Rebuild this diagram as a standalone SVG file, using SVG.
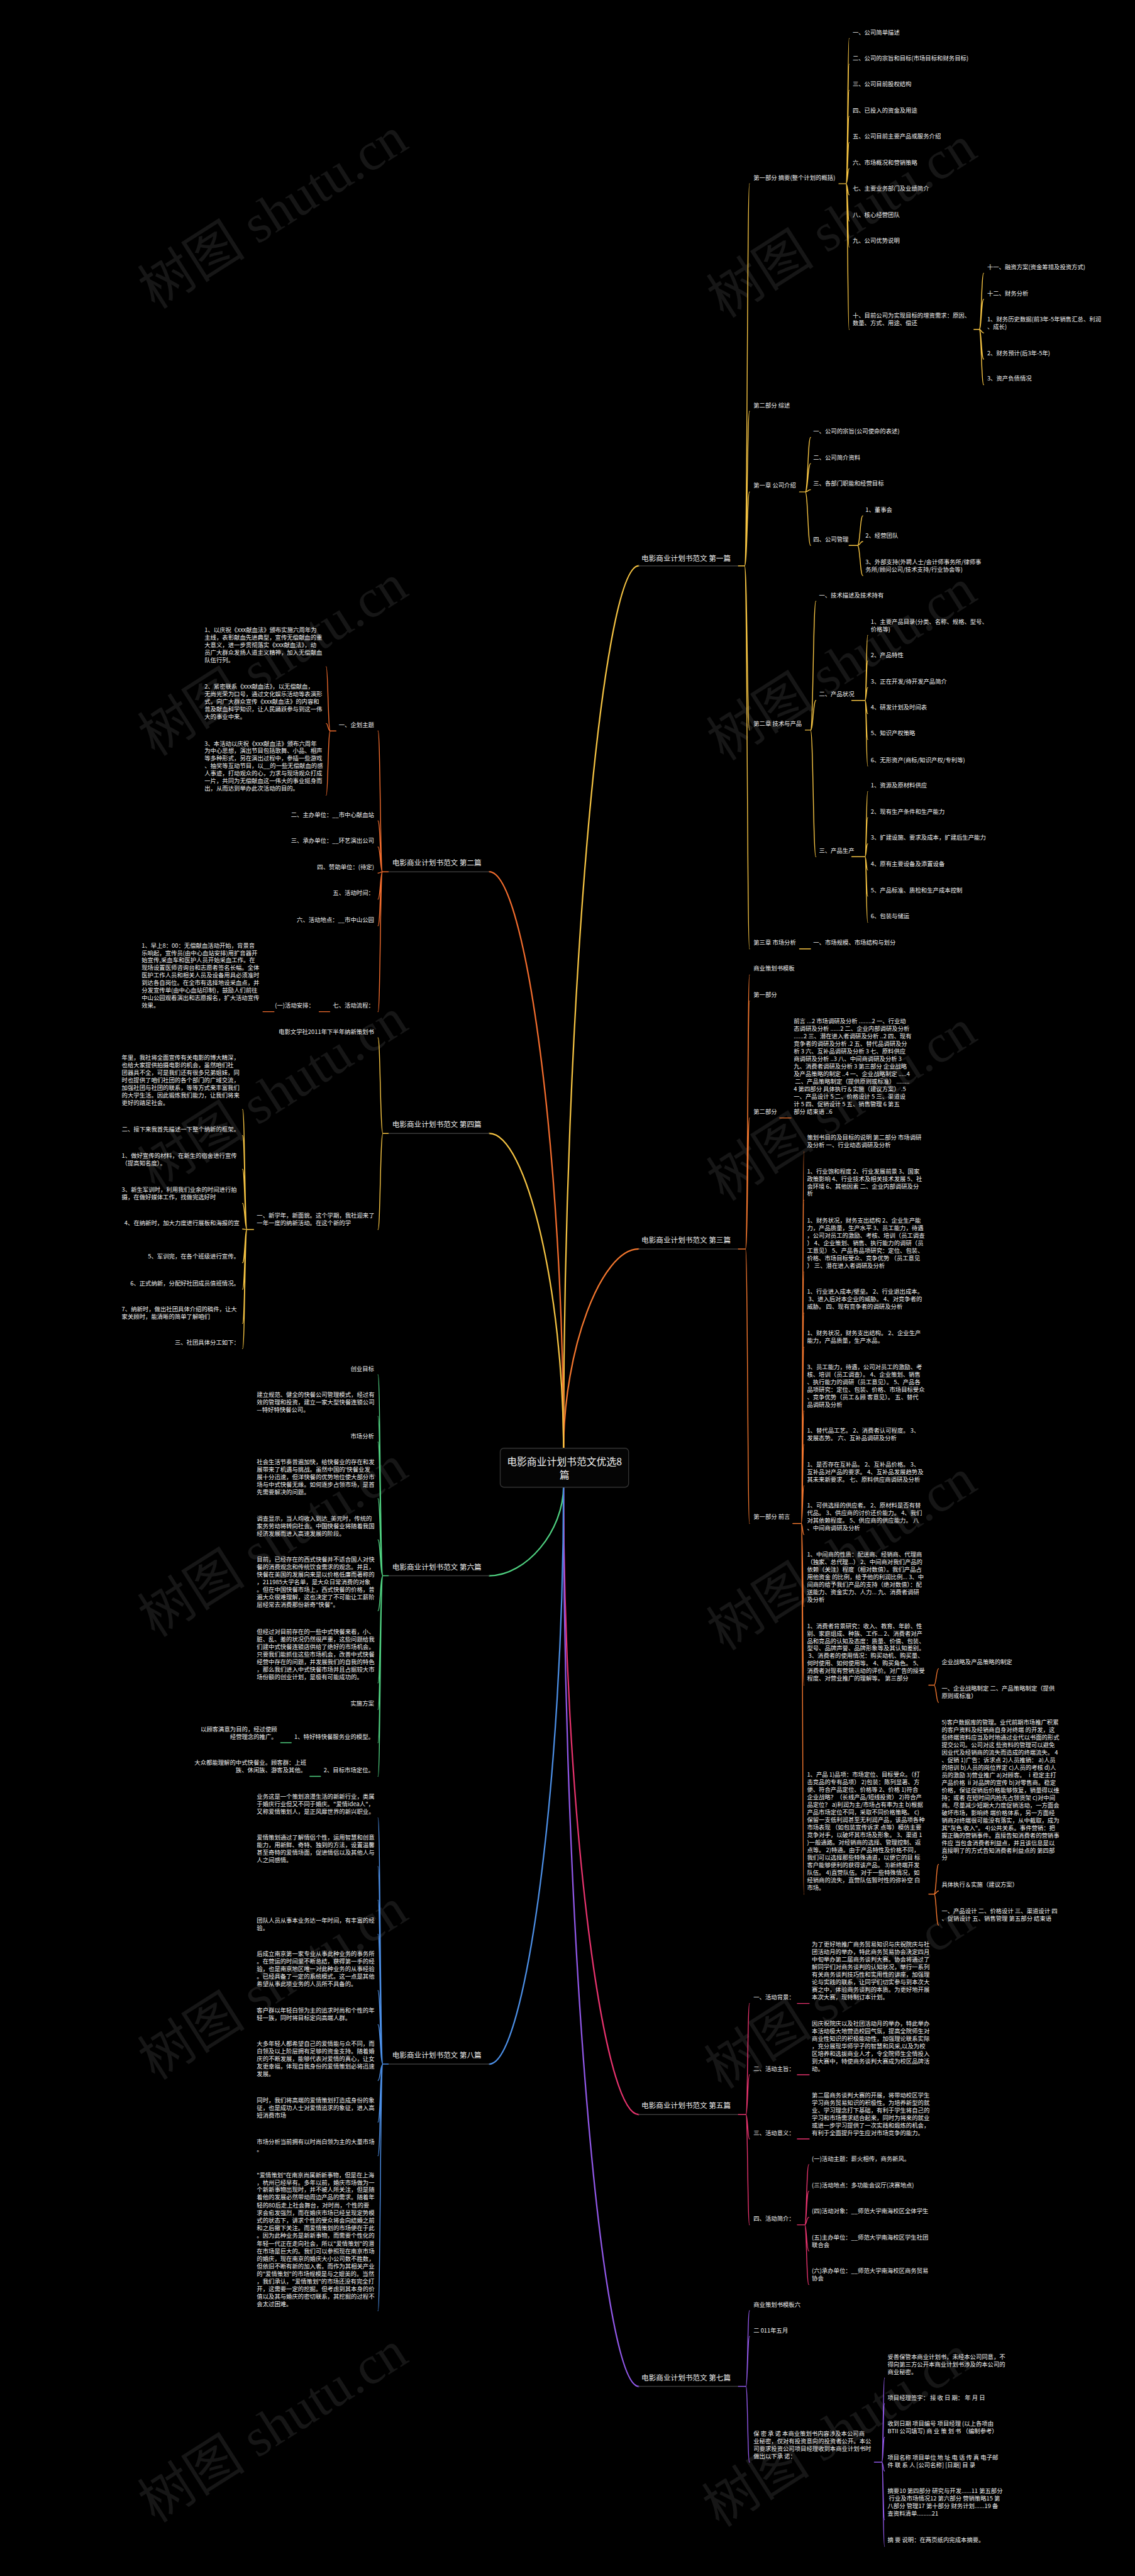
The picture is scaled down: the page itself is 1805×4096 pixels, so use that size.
<svg xmlns="http://www.w3.org/2000/svg" width="1805" height="4096" viewBox="0 0 1805 4096">
<style>
.t{font-family:"Noto Sans CJK SC","Noto Sans",sans-serif;font-size:13.3px;fill:#f0f0f0}
.e{text-anchor:end}
.b{font-size:16.5px}
.c{font-size:22.5px;text-anchor:middle}
.w{font-family:"Liberation Serif","Noto Sans CJK SC",serif;font-size:122px;fill:#161616}
path,line{fill:none;stroke-linecap:round}
.k1{stroke:#f5c342;stroke-width:2}
.k2{stroke:#f26c2d;stroke-width:2}
.k3{stroke:#f4772e;stroke-width:2}
.k4{stroke:#f5c342;stroke-width:2}
.k5{stroke:#e8336e;stroke-width:2}
.k6{stroke:#4fd080;stroke-width:2}
.k7{stroke:#9158e8;stroke-width:2}
.k8{stroke:#4c8fe6;stroke-width:2}
.m{stroke-width:3.2}
.u{stroke:#3a3a3a;stroke-width:2}
</style>
<rect width="1805" height="4096" fill="#000"/>
<g transform="scale(0.704)">
<g id="watermarks">
<text class="w" transform="translate(350,700) rotate(-32.5)">树图 shutu.cn</text>
<text class="w" transform="translate(350,1710) rotate(-32.5)">树图 shutu.cn</text>
<text class="w" transform="translate(350,2690) rotate(-32.5)">树图 shutu.cn</text>
<text class="w" transform="translate(350,3700) rotate(-32.5)">树图 shutu.cn</text>
<text class="w" transform="translate(350,4700) rotate(-32.5)">树图 shutu.cn</text>
<text class="w" transform="translate(350,5700) rotate(-32.5)">树图 shutu.cn</text>
<text class="w" transform="translate(1635,720) rotate(-32.5)">树图 shutu.cn</text>
<text class="w" transform="translate(1635,1720) rotate(-32.5)">树图 shutu.cn</text>
<text class="w" transform="translate(1635,2715) rotate(-32.5)">树图 shutu.cn</text>
<text class="w" transform="translate(1635,3730) rotate(-32.5)">树图 shutu.cn</text>
<text class="w" transform="translate(1630,4720) rotate(-32.5)">树图 shutu.cn</text>
<text class="w" transform="translate(1625,5710) rotate(-32.5)">树图 shutu.cn</text>
</g>

<g id="connectors">
<path class="k1 m" d="M1273 3275 C1273 2276 1358 1278 1443 1278"/>
<path class="k3 m" d="M1273 3275 C1273 3048 1358 2821 1443 2821"/>
<path class="k5 m" d="M1273 3357 C1273 4066 1358 4776 1443 4776"/>
<path class="k7 m" d="M1273 3357 C1273 4373 1358 5390 1443 5390"/>
<path class="k2 m" d="M1273 3275 C1273 2622 1189 1969 1105 1969"/>
<path class="k4 m" d="M1273 3275 C1273 2918 1189 2560 1105 2560"/>
<path class="k6 m" d="M1273 3357 C1273 3458 1189 3559 1105 3559"/>
<path class="k8 m" d="M1273 3357 C1273 4010 1189 4662 1105 4662"/>
<path class="u" d="M1443 1278 H1668 M1443 2821 H1668 M1443 4776 H1668 M1443 5390 H1668 M1105 1969 H877 M1105 2560 H877 M1105 3559 H877 M1105 4662 H877"/>
<path class="k1" d="M1668 1278 H1682 M1682 1278 C1688 1278 1688 415 1693 415 M1682 1278 C1688 1278 1688 929 1693 929 M1682 1278 C1688 1278 1688 1111 1693 1111 M1682 1278 C1688 1278 1688 1649 1693 1649 M1682 1278 C1688 1278 1688 2143 1693 2143"/>
<path class="k1" d="M1895 415 H1911 M1911 415 C1915 415 1915 87 1918 87 M1911 415 C1915 415 1915 145 1918 145 M1911 415 C1915 415 1915 204 1918 204 M1911 415 C1915 415 1915 263 1918 263 M1911 415 C1915 415 1915 322 1918 322 M1911 415 C1915 415 1915 381 1918 381 M1911 415 C1915 415 1915 440 1918 440 M1911 415 C1915 415 1915 499 1918 499 M1911 415 C1915 415 1915 558 1918 558 M1911 415 C1915 415 1915 744 1918 744"/>
<path class="k1" d="M2200 744 H2212 M2212 744 C2217 744 2217 617 2222 617 M2212 744 C2217 744 2217 676 2222 676 M2212 744 C2217 744 2217 752 2222 752 M2212 744 C2217 744 2217 811 2222 811 M2212 744 C2217 744 2217 869 2222 869"/>
<path class="k1" d="M1806 1111 H1819 M1819 1111 C1825 1111 1825 988 1831 988 M1819 1111 C1825 1111 1825 1047 1831 1047 M1819 1111 C1825 1111 1825 1106 1831 1106 M1819 1111 C1825 1111 1825 1232 1831 1232"/>
<path class="k1" d="M1918 1232 H1937 M1937 1232 C1943 1232 1943 1165 1949 1165 M1937 1232 C1943 1232 1943 1223 1949 1223 M1937 1232 C1943 1232 1943 1300 1949 1300"/>
<path class="k1" d="M1819 1649 H1831 M1831 1649 C1837 1649 1837 1358 1843 1358 M1831 1649 C1837 1649 1837 1582 1843 1582 M1831 1649 C1837 1649 1837 1935 1843 1935"/>
<path class="k1" d="M1924 1582 H1954 M1954 1582 C1957 1582 1957 1435 1960 1435 M1954 1582 C1957 1582 1957 1493 1960 1493 M1954 1582 C1957 1582 1957 1553 1960 1553 M1954 1582 C1957 1582 1957 1612 1960 1612 M1954 1582 C1957 1582 1957 1670 1960 1670 M1954 1582 C1957 1582 1957 1730 1960 1730"/>
<path class="k1" d="M1924 1935 H1954 M1954 1935 C1957 1935 1957 1788 1960 1788 M1954 1935 C1957 1935 1957 1847 1960 1847 M1954 1935 C1957 1935 1957 1906 1960 1906 M1954 1935 C1957 1935 1957 1965 1960 1965 M1954 1935 C1957 1935 1957 2024 1960 2024 M1954 1935 C1957 1935 1957 2083 1960 2083"/>
<path class="k1" d="M1806 2143 H1831"/>
<path class="k3" d="M1668 2821 H1684 M1684 2821 C1689 2821 1689 2202 1693 2202 M1684 2821 C1689 2821 1689 2261 1693 2261 M1684 2821 C1689 2821 1689 2525 1693 2525 M1684 2821 C1689 2821 1689 3441 1693 3441"/>
<path class="k3" d="M1761 2525 H1787"/>
<path class="k3" d="M1791 3441 H1810 M1810 3441 C1813 3441 1813 2602 1816 2602 M1810 3441 C1813 3441 1813 2711 1816 2711 M1810 3441 C1813 3441 1813 2873 1816 2873 M1810 3441 C1813 3441 1813 2966 1816 2966 M1810 3441 C1813 3441 1813 3043 1816 3043 M1810 3441 C1813 3441 1813 3187 1816 3187 M1810 3441 C1813 3441 1813 3263 1816 3263 M1810 3441 C1813 3441 1813 3356 1816 3356 M1810 3441 C1813 3441 1813 3466 1816 3466 M1810 3441 C1813 3441 1813 3628 1816 3628 M1810 3441 C1813 3441 1813 3806 1816 3806 M1810 3441 C1813 3441 1813 4278 1816 4278"/>
<path class="k3" d="M2098 3806 H2110 M2110 3806 C2115 3806 2115 3769 2120 3769 M2110 3806 C2115 3806 2115 3845 2120 3845"/>
<path class="k3" d="M2098 4278 H2110 M2110 4278 C2115 4278 2115 4211 2120 4211 M2110 4278 C2115 4278 2115 4271 2120 4271 M2110 4278 C2115 4278 2115 4348 2120 4348"/>
<path class="k5" d="M1668 4776 H1685 M1685 4776 C1689 4776 1689 4525 1693 4525 M1685 4776 C1689 4776 1689 4686 1693 4686 M1685 4776 C1689 4776 1689 4831 1693 4831 M1685 4776 C1689 4776 1689 5025 1693 5025"/>
<path class="k5" d="M1801 4525 H1828 M1801 4686 H1828 M1801 4831 H1828"/>
<path class="k5" d="M1801 5025 H1818 M1818 5025 C1822 5025 1822 4889 1827 4889 M1818 5025 C1822 5025 1822 4949 1827 4949 M1818 5025 C1822 5025 1822 5008 1827 5008 M1818 5025 C1822 5025 1822 5084 1827 5084 M1818 5025 C1822 5025 1822 5160 1827 5160"/>
<path class="k7" d="M1668 5390 H1685 M1685 5390 C1689 5390 1689 5219 1693 5219 M1685 5390 C1689 5390 1689 5277 1693 5277 M1685 5390 C1689 5390 1689 5561 1693 5561"/>
<path class="k7" d="M1975 5561 H1992 M1992 5561 C1995 5561 1995 5371 1998 5371 M1992 5561 C1995 5561 1995 5429 1998 5429 M1992 5561 C1995 5561 1995 5505 1998 5505 M1992 5561 C1995 5561 1995 5581 1998 5581 M1992 5561 C1995 5561 1995 5691 1998 5691 M1992 5561 C1995 5561 1995 5751 1998 5751"/>
<path class="k2" d="M877 1969 H864 M864 1969 C859 1969 859 1651 854 1651 M864 1969 C859 1969 859 1854 854 1854 M864 1969 C859 1969 859 1913 854 1913 M864 1969 C859 1969 859 1972 854 1972 M864 1969 C859 1969 859 2031 854 2031 M864 1969 C859 1969 859 2091 854 2091 M864 1969 C859 1969 859 2285 854 2285"/>
<path class="k2" d="M759 1651 H746 M746 1651 C741 1651 741 1506 737 1506 M746 1651 C741 1651 741 1634 737 1634 M746 1651 C741 1651 741 1796 737 1796"/>
<path class="k2" d="M745 2285 H721 M619 2285 H594"/>
<path class="k4" d="M877 2560 H865 M865 2560 C859 2560 859 2344 854 2344 M865 2560 C859 2560 859 2777 854 2777"/>
<path class="k4" d="M573 2777 H558 M558 2777 C553 2777 553 2506 548 2506 M558 2777 C553 2777 553 2565 548 2565 M558 2777 C553 2777 553 2641 548 2641 M558 2777 C553 2777 553 2718 548 2718 M558 2777 C553 2777 553 2776 548 2776 M558 2777 C553 2777 553 2852 548 2852 M558 2777 C553 2777 553 2912 548 2912 M558 2777 C553 2777 553 2989 548 2989 M558 2777 C553 2777 553 3046 548 3046"/>
<path class="k6" d="M877 3559 H865 M865 3559 C859 3559 859 3105 854 3105 M865 3559 C859 3559 859 3199 854 3199 M865 3559 C859 3559 859 3257 854 3257 M865 3559 C859 3559 859 3385 854 3385 M865 3559 C859 3559 859 3478 854 3478 M865 3559 C859 3559 859 3638 854 3638 M865 3559 C859 3559 859 3801 854 3801 M865 3559 C859 3559 859 3861 854 3861 M865 3559 C859 3559 859 3936 854 3936 M865 3559 C859 3559 859 4012 854 4012"/>
<path class="k6" d="M658 3936 H634 M724 4012 H700"/>
<path class="k8" d="M877 4662 H865 M865 4662 C859 4662 859 4106 854 4106 M865 4662 C859 4662 859 4216 854 4216 M865 4662 C859 4662 859 4292 854 4292 M865 4662 C859 4662 859 4369 854 4369 M865 4662 C859 4662 859 4496 854 4496 M865 4662 C859 4662 859 4573 854 4573 M865 4662 C859 4662 859 4699 854 4699 M865 4662 C859 4662 859 4793 854 4793 M865 4662 C859 4662 859 4869 854 4869 M865 4662 C859 4662 859 5219 854 5219"/>
</g>

<g id="center">
<rect x="1130" y="3271" width="290" height="88" rx="8" fill="#050505" stroke="#333" stroke-width="2"/>
<text class="t c" x="1275" y="3309">电影商业计划书范文优选8</text>
<text class="t c" x="1275" y="3340">篇</text>
</g>

<g id="part1">
<text class="t b" x="1449" y="1267">电影商业计划书范文 第一篇</text>
<g id="p1-1"><text class="t" x="1702" y="406">第一部分 摘要(整个计划的概括)</text>
<text class="t" x="1926" y="78">一、公司简单描述</text>
<text class="t" x="1926" y="136">二、公司的宗旨和目标(市场目标和财务目标)</text>
<text class="t" x="1926" y="195">三、公司目前股权结构</text>
<text class="t" x="1926" y="254">四、已投入的资金及用途</text>
<text class="t" x="1926" y="313">五、公司目前主要产品或服务介绍</text>
<text class="t" x="1926" y="372">六、市场概况和营销策略</text>
<text class="t" x="1926" y="431">七、主要业务部门及业绩简介</text>
<text class="t" x="1926" y="490">八、核心经营团队</text>
<text class="t" x="1926" y="549">九、公司优势说明</text>
<text class="t" x="1926" y="718"><tspan x="1926" y="718">十、目前公司为实现目标的增资需求：原因、</tspan><tspan x="1926" y="735">数量、方式、用途、偿还</tspan></text>
<text class="t" x="2230" y="608">十一、融资方案(资金筹措及投资方式)</text>
<text class="t" x="2230" y="667">十二、财务分析</text>
<text class="t" x="2230" y="726"><tspan x="2230" y="726">1、财务历史数据(前3年-5年销售汇总、利润</tspan><tspan x="2230" y="743">、成长)</tspan></text>
<text class="t" x="2230" y="802">2、财务预计(后3年-5年)</text>
<text class="t" x="2230" y="860">3、资产负债情况</text>
</g>
<text class="t" x="1702" y="920">第二部分 综述</text>
<g id="p1-3"><text class="t" x="1702" y="1101">第一章 公司介绍</text>
<text class="t" x="1837" y="979">一、公司的宗旨(公司使命的表述)</text>
<text class="t" x="1837" y="1038">二、公司简介资料</text>
<text class="t" x="1837" y="1097">三、各部门职能和经营目标</text>
<text class="t" x="1837" y="1223">四、公司管理</text>
<text class="t" x="1955" y="1156">1、董事会</text>
<text class="t" x="1955" y="1214">2、经营团队</text>
<text class="t" x="1955" y="1274"><tspan x="1955" y="1274">3、外部支持(外聘人士/会计师事务所/律师事</tspan><tspan x="1955" y="1291">务所/顾问公司/技术支持/行业协会等)</tspan></text>
</g>
<g id="p1-4"><text class="t" x="1702" y="1639">第二章 技术与产品</text>
<text class="t" x="1850" y="1349">一、技术描述及技术持有</text>
<text class="t" x="1850" y="1573">二、产品状况</text>
<text class="t" x="1850" y="1926">三、产品生产</text>
<text class="t" x="1967" y="1409"><tspan x="1967" y="1409">1、主要产品目录(分类、名称、规格、型号、</tspan><tspan x="1967" y="1426">价格等)</tspan></text>
<text class="t" x="1967" y="1484">2、产品特性</text>
<text class="t" x="1967" y="1544">3、正在开发/待开发产品简介</text>
<text class="t" x="1967" y="1603">4、研发计划及时间表</text>
<text class="t" x="1967" y="1661">5、知识产权策略</text>
<text class="t" x="1967" y="1721">6、无形资产(商标/知识产权/专利等)</text>
<text class="t" x="1967" y="1779">1、资源及原材料供应</text>
<text class="t" x="1967" y="1838">2、现有生产条件和生产能力</text>
<text class="t" x="1967" y="1897">3、扩建设施、要求及成本，扩建后生产能力</text>
<text class="t" x="1967" y="1956">4、原有主要设备及添置设备</text>
<text class="t" x="1967" y="2015">5、产品标准、质检和生产成本控制</text>
<text class="t" x="1967" y="2074">6、包装与储运</text>
</g>
<text class="t" x="1702" y="2133">第三章 市场分析</text>
<text class="t" x="1837" y="2133">一、市场规模、市场结构与划分</text>
</g>

<g id="part3">
<text class="t b" x="1449" y="2807">电影商业计划书范文 第三篇</text>
<text class="t" x="1702" y="2192">商业策划书模板</text>
<text class="t" x="1702" y="2251">第一部分</text>
<text class="t" x="1702" y="2515">第二部分</text>
<text class="t" x="1793" y="2311"><tspan x="1793" y="2311">前言 ...2 市场调研及分析 ........2 一、行业动</tspan><tspan x="1793" y="2328">态调研及分析 ......2 二、企业内部调研及分析</tspan><tspan x="1793" y="2345">......2 三、潜在进入者调研及分析 ..2 四、现有</tspan><tspan x="1793" y="2362">竞争者的调研及分析 .2 五、替代品调研及分</tspan><tspan x="1793" y="2379">析  3 六、互补品调研及分析  3 七、原料供应</tspan><tspan x="1793" y="2396">商调研及分析 ..3 八、中间商调研及分析  3</tspan><tspan x="1793" y="2413">九、消费者调研及分析  3 第三部分 企业战略</tspan><tspan x="1793" y="2430">及产品策略的制定 ..4 一、企业战略制定 .....4</tspan><tspan x="1793" y="2447"> 二、产品策略制定（提供原则或标准） ........</tspan><tspan x="1793" y="2464">4 第四部分 具体执行＆实施（建议方案） .5</tspan><tspan x="1793" y="2481">一、产品设计  5 二、价格设计  5 三、渠道设</tspan><tspan x="1793" y="2498">计  5 四、促销设计  5 五、销售管理  6 第五</tspan><tspan x="1793" y="2515">部分 结束语 ..6</tspan></text>
<text class="t" x="1702" y="3431">第一部分 前言</text>
<text class="t" x="1823" y="2574"><tspan x="1823" y="2574">策划书目的及目标的说明 第二部分 市场调研</tspan><tspan x="1823" y="2591">及分析 一、行业动态调研及分析</tspan></text>
<text class="t" x="1823" y="2650"><tspan x="1823" y="2650">1、行业饱和程度 2、行业发展前景 3、国家</tspan><tspan x="1823" y="2667">政策影响 4、行业技术及相关技术发展 5、社</tspan><tspan x="1823" y="2684">会环境 6、其他因素 二、企业内部调研及分</tspan><tspan x="1823" y="2701">析</tspan></text>
<text class="t" x="1823" y="2761"><tspan x="1823" y="2761">1、财务状况，财务支出结构 2、企业生产能</tspan><tspan x="1823" y="2778">力，产品质量，生产水平 3、员工能力，待遇</tspan><tspan x="1823" y="2795">，公司对员工的激励、考核、培训（员工调查</tspan><tspan x="1823" y="2812">） 4、企业策划、销售、执行能力的调研（员</tspan><tspan x="1823" y="2829">工意见） 5、产品各品项研究：定位、包装、</tspan><tspan x="1823" y="2846">价格、市场目标受众、竞争优势 （员工意见</tspan><tspan x="1823" y="2863">） 三、潜在进入者调研及分析</tspan></text>
<text class="t" x="1823" y="2922"><tspan x="1823" y="2922">1、行业进入成本/壁垒。 2、行业退出成本。</tspan><tspan x="1823" y="2939"> 3、进入后对本企业的威胁。 4、对竞争者的</tspan><tspan x="1823" y="2956">威胁。 四、现有竞争者的调研及分析</tspan></text>
<text class="t" x="1823" y="3016"><tspan x="1823" y="3016">1、财务状况，财务支出结构。 2、企业生产</tspan><tspan x="1823" y="3033">能力，产品质量，生产水品。</tspan></text>
<text class="t" x="1823" y="3092"><tspan x="1823" y="3092">3、员工能力，待遇，公司对员工的激励、考</tspan><tspan x="1823" y="3109">核、培训（员工调查）。 4、企业策划、销售</tspan><tspan x="1823" y="3126">、执行能力的调研（员工意见）。 5、产品各</tspan><tspan x="1823" y="3143">品项研究：定位、包装、价格、市场目标受众</tspan><tspan x="1823" y="3160">、竞争优势（员工＆顾 客意见）。 五、替代</tspan><tspan x="1823" y="3177">品调研及分析</tspan></text>
<text class="t" x="1823" y="3236"><tspan x="1823" y="3236">1、替代品工艺。 2、消费者认可程度。 3、</tspan><tspan x="1823" y="3253">发展态势。 六、互补品调研及分析</tspan></text>
<text class="t" x="1823" y="3312"><tspan x="1823" y="3312">1、是否存在互补品。 2、互补品价格。 3、</tspan><tspan x="1823" y="3329">互补品对产品的要求。 4、互补品发展趋势及</tspan><tspan x="1823" y="3346">其未来新要求。 七、原料供应商调研及分析</tspan></text>
<text class="t" x="1823" y="3405"><tspan x="1823" y="3405">1、可供选择的供应者。 2、原材料是否有替</tspan><tspan x="1823" y="3422">代品。 3、供应商的讨价还价能力。 4、我们</tspan><tspan x="1823" y="3439">对其依赖程度。 5、供应商的供应能力。 八</tspan><tspan x="1823" y="3456">、中间商调研及分析</tspan></text>
<text class="t" x="1823" y="3516"><tspan x="1823" y="3516">1、中间商的性质：配送商、经销商、代理商</tspan><tspan x="1823" y="3533">（独家、总代理...） 2、中间商对我们产品的</tspan><tspan x="1823" y="3550">依赖（关注）程度（相对数值）。我们产品占</tspan><tspan x="1823" y="3567">用他资金 的比例，给予他的利润比例... 3、中</tspan><tspan x="1823" y="3584">间商的给予我们产品的支持（绝对数值）：配</tspan><tspan x="1823" y="3601">送能力、资金实力、人力... 九、消费者调研</tspan><tspan x="1823" y="3618">及分析</tspan></text>
<text class="t" x="1823" y="3677"><tspan x="1823" y="3677">1、消费者背景研究：收入、教育、年龄、性</tspan><tspan x="1823" y="3694">别、家庭组成、种族、工作... 2、消费者对产</tspan><tspan x="1823" y="3711">品和竞品的认知及态度：质量、价值、包装、</tspan><tspan x="1823" y="3728">型号、品牌声誉、品牌形象等及其认知差别。</tspan><tspan x="1823" y="3745"> 3、消费者的使用情况：购买动机、购买量、</tspan><tspan x="1823" y="3762">何时使用、如何使用等。 4、购买角色。 5、</tspan><tspan x="1823" y="3779">消费者对现有营销活动的评价。对广告的接受</tspan><tspan x="1823" y="3796">程度、对营业推广的理解等。 第三部分</tspan></text>
<text class="t" x="2127" y="3759">企业战略及产品策略的制定</text>
<text class="t" x="2127" y="3818"><tspan x="2127" y="3818">一、企业战略制定 二、产品策略制定（提供</tspan><tspan x="2127" y="3835">原则或标准）</tspan></text>
<text class="t" x="1823" y="4013"><tspan x="1823" y="4013">1、产品 1)品项：市场定位、目标受众。（打</tspan><tspan x="1823" y="4030">击竞品的专有品项） 2)包装：陈列显著、方</tspan><tspan x="1823" y="4047">便、符合产品定位、价格等 2、价格 1)符合</tspan><tspan x="1823" y="4064">企业战略？（长线产品/短线投资） 2)符合产</tspan><tspan x="1823" y="4081">品定位？ a)利润为主/市场占有率为主 b)根据</tspan><tspan x="1823" y="4098">产品市场定位不同，采取不同价格策略。 c)</tspan><tspan x="1823" y="4115">保留一支低利润甚至无利润产品，该品项各种</tspan><tspan x="1823" y="4132">市场表现 （如包装宣传诉求 点等）模仿主要</tspan><tspan x="1823" y="4149">竞争对手，以破坏其市场及形象。 3、渠道 1</tspan><tspan x="1823" y="4166">)一般通路。对经销商的选择、管理控制、返</tspan><tspan x="1823" y="4183">点等。 2)特通。由于产品特性及价格不同，</tspan><tspan x="1823" y="4200">我们可以选择那些特殊通道，以便它的目 标</tspan><tspan x="1823" y="4217">客户能够便利的获得该产品。 3)新终端开发</tspan><tspan x="1823" y="4234">队伍。 4)直营队伍。对于一些特殊情况，如</tspan><tspan x="1823" y="4251">经销商的流失，直营队伍暂时性的弥补空 白</tspan><tspan x="1823" y="4268">市场。</tspan></text>
<text class="t" x="2127" y="3895"><tspan x="2127" y="3895">5)客户数据库的管理。业代前期市场推广积累</tspan><tspan x="2127" y="3912">的客户资料及经销商自身对终端 的开发，这</tspan><tspan x="2127" y="3929">些终端资料应当及时地通过业代以书面的形式</tspan><tspan x="2127" y="3946">提交公司。公司对这 些资料的管理可以避免</tspan><tspan x="2127" y="3963">因业代及经销商的流失而造成的终端流失。 4</tspan><tspan x="2127" y="3980">、促销 1)广告：诉求点 2)人员推销： a)人员</tspan><tspan x="2127" y="3997">的培训 b)人员的岗位界定 c)人员的考核 d)人</tspan><tspan x="2127" y="4014">员的激励 3)营业推广 a)对顾客。 ⅰ稳定主打</tspan><tspan x="2127" y="4031">产品价格 ⅱ对品牌的宣传 b)对零售商。稳定</tspan><tspan x="2127" y="4048">价格，保证促销后价格能够恢复，销量得以维</tspan><tspan x="2127" y="4065">持；或者 在短时间内抢先占领货架 c)对中间</tspan><tspan x="2127" y="4082">商。尽量减少短期大力度促销活动，一方面会</tspan><tspan x="2127" y="4099">破坏市场，影响终 端价格体系，另一方面经</tspan><tspan x="2127" y="4116">销商对终端很可能没有落实，从中截取，成为</tspan><tspan x="2127" y="4133">其&quot;灰色 收入&quot;。 4)公共关系。事件营销：把</tspan><tspan x="2127" y="4150">握正确的营销事件。直接告知消费者的营销事</tspan><tspan x="2127" y="4167">件应 当包含消费者利益点，并且该信息是以</tspan><tspan x="2127" y="4184">直接明了的方式告知消费者利益点的 第四部</tspan><tspan x="2127" y="4201">分</tspan></text>
<text class="t" x="2127" y="4261">具体执行＆实施（建议方案）</text>
<text class="t" x="2127" y="4321"><tspan x="2127" y="4321">一、产品设计 二、价格设计 三、渠道设计 四</tspan><tspan x="2127" y="4338">、促销设计 五、销售管理 第五部分 结束语</tspan></text>
</g>

<g id="part5">
<text class="t b" x="1449" y="4762">电影商业计划书范文 第五篇</text>
<text class="t" x="1702" y="4516">一、活动背景：</text>
<text class="t" x="1834" y="4397"><tspan x="1834" y="4397">为了更好地推广商务贸易知识与庆祝院庆与社</tspan><tspan x="1834" y="4414">团活动月的举办，特此商务贸易协会决定四月</tspan><tspan x="1834" y="4431">中旬举办第二届商务谈判大赛。协会将通过了</tspan><tspan x="1834" y="4448">解同学们对商务谈判的认知状况，举行一系列</tspan><tspan x="1834" y="4465">有关商务谈判技巧性和实用性的讲座，加强理</tspan><tspan x="1834" y="4482">论与实践的联系，让同学们切实参与到本次大</tspan><tspan x="1834" y="4499">赛之中，体验商务谈判的本质。为更好地开展</tspan><tspan x="1834" y="4516">本次大赛，现特制订本计划。</tspan></text>
<text class="t" x="1702" y="4677">二、活动主旨：</text>
<text class="t" x="1834" y="4575"><tspan x="1834" y="4575">因庆祝院庆以及社团活动月的举办，特此举办</tspan><tspan x="1834" y="4592">本活动极大地营造校园气氛，提高全院师生对</tspan><tspan x="1834" y="4609">商业性知识的积极能动性，加强理论联系实际</tspan><tspan x="1834" y="4626">，充分展现华师学子的智慧和风采,以及为校</tspan><tspan x="1834" y="4643">区培养和选拔商业人才，令全院师生全情投入</tspan><tspan x="1834" y="4660">到大赛中，特使商务谈判大赛成为校区品牌活</tspan><tspan x="1834" y="4677">动。</tspan></text>
<text class="t" x="1702" y="4822">三、活动意义：</text>
<text class="t" x="1834" y="4737"><tspan x="1834" y="4737">第二届商务谈判大赛的开展，将带动校区学生</tspan><tspan x="1834" y="4754">学习商务贸易知识的积极性。为培养新型的就</tspan><tspan x="1834" y="4771">业、学习理念打下基础，有利于学生将自己的</tspan><tspan x="1834" y="4788">学习和市场需求结合起来，同时为将来的就业</tspan><tspan x="1834" y="4805">或进一步学习提供了一次实践和煅炼的机会，</tspan><tspan x="1834" y="4822">有利于全面提升学生应对市场竞争的能力。</tspan></text>
<text class="t" x="1702" y="5016">四、活动简介：</text>
<text class="t" x="1834" y="4880">(一)活动主题：薪火相传，商务新风。</text>
<text class="t" x="1834" y="4940">(三)活动地点：多功能会议厅(决赛地点)</text>
<text class="t" x="1834" y="4999">(四)活动对象：__师范大学南海校区全体学生</text>
<text class="t" x="1834" y="5058"><tspan x="1834" y="5058">(五)主办单位：__师范大学南海校区学生社团</tspan><tspan x="1834" y="5075">联合会</tspan></text>
<text class="t" x="1834" y="5134"><tspan x="1834" y="5134">(六)承办单位：__师范大学南海校区商务贸易</tspan><tspan x="1834" y="5151">协会</tspan></text>
</g>

<g id="part7">
<text class="t b" x="1449" y="5377">电影商业计划书范文 第七篇</text>
<text class="t" x="1702" y="5210">商业策划书模板六</text>
<text class="t" x="1702" y="5268">二 011年五月</text>
<text class="t" x="1702" y="5501"><tspan x="1702" y="5501">保 密 承 诺 本商业策划书内容涉及本公司商</tspan><tspan x="1702" y="5518">业秘密，仅对有投资意向的投资者公开。本公</tspan><tspan x="1702" y="5535">司要求投资公司项目经理收到本商业计划书时</tspan><tspan x="1702" y="5552">做出以下承 诺：</tspan></text>
<text class="t" x="2005" y="5328"><tspan x="2005" y="5328">妥善保管本商业计划书，未经本公司同意，不</tspan><tspan x="2005" y="5345">得向第三方公开本商业计划书涉及的本公司的</tspan><tspan x="2005" y="5362">商业秘密。</tspan></text>
<text class="t" x="2005" y="5420">项目经理签字： 接 收 日 期： 年 月 日</text>
<text class="t" x="2005" y="5479"><tspan x="2005" y="5479">收到日期 项目编号 项目经理 (以上各项由</tspan><tspan x="2005" y="5496">BTII 公司填写) 商 业 策 划 书 （编制参考）</tspan></text>
<text class="t" x="2005" y="5555"><tspan x="2005" y="5555">项目名称 项目单位 地 址 电 话 传 真 电子邮</tspan><tspan x="2005" y="5572">件 联 系 人 [公司名称] [日期] 目 录</tspan></text>
<text class="t" x="2005" y="5631"><tspan x="2005" y="5631">摘要10 第四部分 研究与开发......11 第五部分</tspan><tspan x="2005" y="5648"> 行业及市场情况12 第六部分 营销策略15 第</tspan><tspan x="2005" y="5665">八部分 管理17 第十部分 财务计划......19 备</tspan><tspan x="2005" y="5682">查资料清单.........21</tspan></text>
<text class="t" x="2005" y="5742">摘 要 说明：在两页纸内完成本摘要。</text>
</g>

<g id="part2">
<text class="t b" x="886" y="1954">电影商业计划书范文 第二篇</text>
<text class="t e" x="845" y="1642">一、企划主题</text>
<text class="t" x="462" y="1428"><tspan x="462" y="1428">1、以庆祝《xxx献血法》颁布实施六周年为</tspan><tspan x="462" y="1445">主线，表彰献血先进典型，宣传无偿献血的重</tspan><tspan x="462" y="1462">大意义，进一步贯彻落实《xxx献血法》，动</tspan><tspan x="462" y="1479">员广大群众发扬人道主义精神，加入无偿献血</tspan><tspan x="462" y="1496">队伍行列。</tspan></text>
<text class="t" x="462" y="1556"><tspan x="462" y="1556">2、紧密联系《xxx献血法》，以无偿献血，</tspan><tspan x="462" y="1573">无尚光荣为口号，通过文化娱乐活动等表演形</tspan><tspan x="462" y="1590">式，向广大群众宣传《xxx献血法》的内容和</tspan><tspan x="462" y="1607">普及献血科学知识，让人民踊跃参与到这一伟</tspan><tspan x="462" y="1624">大的事业中来。</tspan></text>
<text class="t" x="462" y="1684"><tspan x="462" y="1684">3、本活动以庆祝《xxx献血法》颁布六周年</tspan><tspan x="462" y="1701">为中心思想，演出节目包括歌舞、小品、相声</tspan><tspan x="462" y="1718">等多种形式，另在演出过程中，参插一些游戏</tspan><tspan x="462" y="1735">、抽奖等互动节目，以__的一些无偿献血的感</tspan><tspan x="462" y="1752">人事迹，打动观众的心，力求与现场观众打成</tspan><tspan x="462" y="1769">一片，共同为无偿献血这一伟大的事业挺身而</tspan><tspan x="462" y="1786">出，从而达到举办此次活动的目的。</tspan></text>
<text class="t e" x="845" y="1845">二、主办单位：__市中心献血站</text>
<text class="t e" x="845" y="1904">三、承办单位：__环艺演出公司</text>
<text class="t e" x="845" y="1963">四、赞助单位：(待定)</text>
<text class="t e" x="845" y="2022">五、活动时间：</text>
<text class="t e" x="845" y="2082">六、活动地点：__市中山公园</text>
<text class="t e" x="845" y="2276">七、活动流程：</text>
<text class="t e" x="710" y="2276">(一)活动安排：</text>
<text class="t" x="320" y="2140"><tspan x="320" y="2140">1、早上8：00：无偿献血活动开始，背景音</tspan><tspan x="320" y="2157">乐响起，宣传员(由中心血站安排)用扩音器开</tspan><tspan x="320" y="2174">始宣传,采血车和医护人员开始采血工作。在</tspan><tspan x="320" y="2191">现场设置医师咨询台和志愿者签名长幅。全体</tspan><tspan x="320" y="2208">医护工作人员和相关人员及设备用具必须准时</tspan><tspan x="320" y="2225">到达各自岗位。在全市有选择地设采血点，并</tspan><tspan x="320" y="2242">分发宣传单(由中心血站印制)，鼓励人们前往</tspan><tspan x="320" y="2259">中山公园观看演出和志愿报名，扩大活动宣传</tspan><tspan x="320" y="2276">效果。</tspan></text>
</g>

<g id="part4">
<text class="t b" x="886" y="2546">电影商业计划书范文 第四篇</text>
<text class="t e" x="845" y="2335">电影文学社2011年下半年纳新策划书</text>
<text class="t" x="580" y="2750"><tspan x="580" y="2750">一、新学年，新面貌。这个学期，我社迎来了</tspan><tspan x="580" y="2767">一年一度的纳新活动。在这个新的学</tspan></text>
<text class="t" x="275" y="2394"><tspan x="275" y="2394">年里，我社将全面宣传有关电影的博大精深，</tspan><tspan x="275" y="2411">也给大家提供拍摄电影的机会，虽然咱们社</tspan><tspan x="275" y="2428">团器具不全，可是我们还有很多兄弟姐妹，同</tspan><tspan x="275" y="2445">时也提供了咱们社团的各个部门的广域交流，</tspan><tspan x="275" y="2462">加强社团与社团的联系，等等方式来丰富我们</tspan><tspan x="275" y="2479">的大学生活。因此锻炼我们能力，让我们将来</tspan><tspan x="275" y="2496">更好的踏足社会。</tspan></text>
<text class="t e" x="541" y="2556">二、接下来我首先描述一下整个纳新的框架。</text>
<text class="t" x="275" y="2615"><tspan x="275" y="2615">1、做好宣传的材料，在新生的宿舍进行宣传</tspan><tspan x="275" y="2632">（提高知名度）。</tspan></text>
<text class="t" x="275" y="2692"><tspan x="275" y="2692">3、新生军训时，利用我们业余的时间进行拍</tspan><tspan x="275" y="2709">摄，在做好媒体工作，找做完选好时</tspan></text>
<text class="t e" x="541" y="2767">4、在纳新时，加大力度进行展板和海报的宣</text>
<text class="t e" x="541" y="2843">5、军训完，在各个班级进行宣传。</text>
<text class="t e" x="541" y="2903">6、正式纳新，分配好社团成员值班情况。</text>
<text class="t" x="275" y="2962"><tspan x="275" y="2962">7、纳新时，做出社团具体介绍的稿件，让大</tspan><tspan x="275" y="2979">家关顾时，能清晰的简单了解咱们</tspan></text>
<text class="t e" x="541" y="3037">三、社团具体分工如下：</text>
</g>

<g id="part6">
<text class="t b" x="886" y="3545">电影商业计划书范文 第六篇</text>
<text class="t e" x="845" y="3096">创业目标</text>
<text class="t" x="580" y="3155"><tspan x="580" y="3155">建立规范、健全的快餐公司管理模式，经过有</tspan><tspan x="580" y="3172">效的管理和投资，建立一家大型快餐连锁公司</tspan><tspan x="580" y="3189">—特好特快餐公司。</tspan></text>
<text class="t e" x="845" y="3248">市场分析</text>
<text class="t" x="580" y="3307"><tspan x="580" y="3307">社会生活节奏普遍加快，给快餐业的存在和发</tspan><tspan x="580" y="3324">展带来了机遇与挑战。虽然中国的'快餐业发</tspan><tspan x="580" y="3341">展十分迅速，但洋快餐的优势地位使大部分市</tspan><tspan x="580" y="3358">场与中式快餐无缘。如何逐步占领市场，是首</tspan><tspan x="580" y="3375">先需要解决的问题。</tspan></text>
<text class="t" x="580" y="3435"><tspan x="580" y="3435">调查显示，当人均收入到达_美元时，传统的</tspan><tspan x="580" y="3452">家务劳动将转向社会。中国快餐业将随着我国</tspan><tspan x="580" y="3469">经济发展而进入高速发展的阶段。</tspan></text>
<text class="t" x="580" y="3527"><tspan x="580" y="3527">目前，已经存在的西式快餐并不适合国人对快</tspan><tspan x="580" y="3544">餐的消费观念和传统饮食需求的观念。并且，</tspan><tspan x="580" y="3561">快餐在美国的发展向来是以价格低廉而著称的</tspan><tspan x="580" y="3578">，211985大学名单，是大众日常消费的对象</tspan><tspan x="580" y="3595">。但在中国快餐市场上，西式快餐的价格，普</tspan><tspan x="580" y="3612">遍大众很难理解，这也决定了不可能让工薪阶</tspan><tspan x="580" y="3629">层经常去消费那份新奇&quot;快餐&quot;。</tspan></text>
<text class="t" x="580" y="3690"><tspan x="580" y="3690">但经过对目前存在的一些中式快餐来看，小、</tspan><tspan x="580" y="3707">脏、乱、差的状况仍然很严重，这些问题给我</tspan><tspan x="580" y="3724">们建中式快餐连锁店供给了绝好的市场机会。</tspan><tspan x="580" y="3741">只要我们能抓住这些市场机会，改善中式快餐</tspan><tspan x="580" y="3758">经营中存在的问题，并发展我们的自我的特色</tspan><tspan x="580" y="3775">，那么我们进入中式快餐市场并且占据较大市</tspan><tspan x="580" y="3792">场份额的创业计划，是极有可能成功的。</tspan></text>
<text class="t e" x="845" y="3852">实施方案</text>
<text class="t e" x="845" y="3927">1、特好特快餐服务业的模型。</text>
<text class="t e" x="626" y="3910"><tspan x="626" y="3910">以顾客满意为目的，经过使顾</tspan><tspan x="626" y="3927">经营理念的推广。</tspan></text>
<text class="t e" x="845" y="4003">2、目标市场定位。</text>
<text class="t e" x="692" y="3986"><tspan x="692" y="3986">大众都能理解的中式快餐业。顾客群：上班</tspan><tspan x="692" y="4003">族、休闲族、游客及其他。</tspan></text>
</g>

<g id="part8">
<text class="t b" x="886" y="4648">电影商业计划书范文 第八篇</text>
<text class="t" x="580" y="4062"><tspan x="580" y="4062">业务这是一个策划浪漫生活的新新行业，类属</tspan><tspan x="580" y="4079">于婚庆行业但又不同于婚庆。&quot;爱情idea人&quot;，</tspan><tspan x="580" y="4096">又称爱情策划人，是正风靡世界的新兴职业。</tspan></text>
<text class="t" x="580" y="4155"><tspan x="580" y="4155">爱情策划通过了解情侣个性，运用智慧和创意</tspan><tspan x="580" y="4172">能力，用新鲜、奇特、独到的方法，设置温馨</tspan><tspan x="580" y="4189">甚至奇特的爱情场面，促进情侣以及其他人与</tspan><tspan x="580" y="4206">人之间感情。</tspan></text>
<text class="t" x="580" y="4342"><tspan x="580" y="4342">团队人员从事本业务达一年时间，有丰富的经</tspan><tspan x="580" y="4359">验。</tspan></text>
<text class="t" x="580" y="4418"><tspan x="580" y="4418">后成立南京第一家专业从事此种业务的事务所</tspan><tspan x="580" y="4435">。在营运的时间里不断总结，获得第一手的经</tspan><tspan x="580" y="4452">验，也是南京地区唯一对此种业务的从事经验</tspan><tspan x="580" y="4469">。已经具备了一定的系统模式。这一点是其他</tspan><tspan x="580" y="4486">希望从事此项业务的人员所不具备的。</tspan></text>
<text class="t" x="580" y="4546"><tspan x="580" y="4546">客户群以年轻白领为主的追求时尚和个性的年</tspan><tspan x="580" y="4563">轻一族，同时将目标定向高端人群。</tspan></text>
<text class="t" x="580" y="4621"><tspan x="580" y="4621">大多年轻人都希望自己的爱情能与众不同，而</tspan><tspan x="580" y="4638">白领及以上阶层拥有足够的资金支持。随着婚</tspan><tspan x="580" y="4655">庆的不断发展，能够代表对爱情的真心，让女</tspan><tspan x="580" y="4672">友更幸福，体现自我身份的爱情策划必将迅速</tspan><tspan x="580" y="4689">发展。</tspan></text>
<text class="t" x="580" y="4749"><tspan x="580" y="4749">同时，我们将高端的爱情策划打造成身份的象</tspan><tspan x="580" y="4766">征，也是成功人士对爱情追求的象征，进入高</tspan><tspan x="580" y="4783">短消费市场</tspan></text>
<text class="t" x="580" y="4842"><tspan x="580" y="4842">市场分析当前拥有以时尚白领为主的大量市场</tspan><tspan x="580" y="4859">。</tspan></text>
<text class="t" x="580" y="4917"><tspan x="580" y="4917">&quot;爱情策划&quot;在南京尚属新新事物，但是在上海</tspan><tspan x="580" y="4934">，杭州已经早有。多年以前，婚庆市场做为一</tspan><tspan x="580" y="4951">个新新事物出现时，并不被人所关注，但是随</tspan><tspan x="580" y="4968">着他的发展必然带动周边产品的需求。随着年</tspan><tspan x="580" y="4986">轻的80后走上社会舞台，对时尚，个性的要</tspan><tspan x="580" y="5003">求会愈发强烈，而在婚庆市场已经呈现定势模</tspan><tspan x="580" y="5020">式的状态下，讲求个性的受众将会向结婚之前</tspan><tspan x="580" y="5037">和之后撤下关注。而爱情策划的市场便在于此</tspan><tspan x="580" y="5054">。因为此种业务是新新事物，而需要个性化的</tspan><tspan x="580" y="5072">年轻一代正在走向社会，所以&quot;爱情策划&quot;的潜</tspan><tspan x="580" y="5089">在市场是巨大的。我们可以参照现在南京市场</tspan><tspan x="580" y="5106">的婚庆，现在南京的婚庆大小公司数不胜数，</tspan><tspan x="580" y="5123">但依旧不断有新的加入者。而作为其相关产业</tspan><tspan x="580" y="5140">的&quot;爱情策划&quot;的市场规模是与之媲美的。当然</tspan><tspan x="580" y="5158">，我们承认，&quot;爱情策划&quot;的市场还没有完全打</tspan><tspan x="580" y="5175">开，这需要一定的挖掘。但考虑到其本身的价</tspan><tspan x="580" y="5192">值以及其与婚庆的密切联系，其挖掘的过程不</tspan><tspan x="580" y="5209">会太过困难。</tspan></text>
</g>
</g>
</svg>
